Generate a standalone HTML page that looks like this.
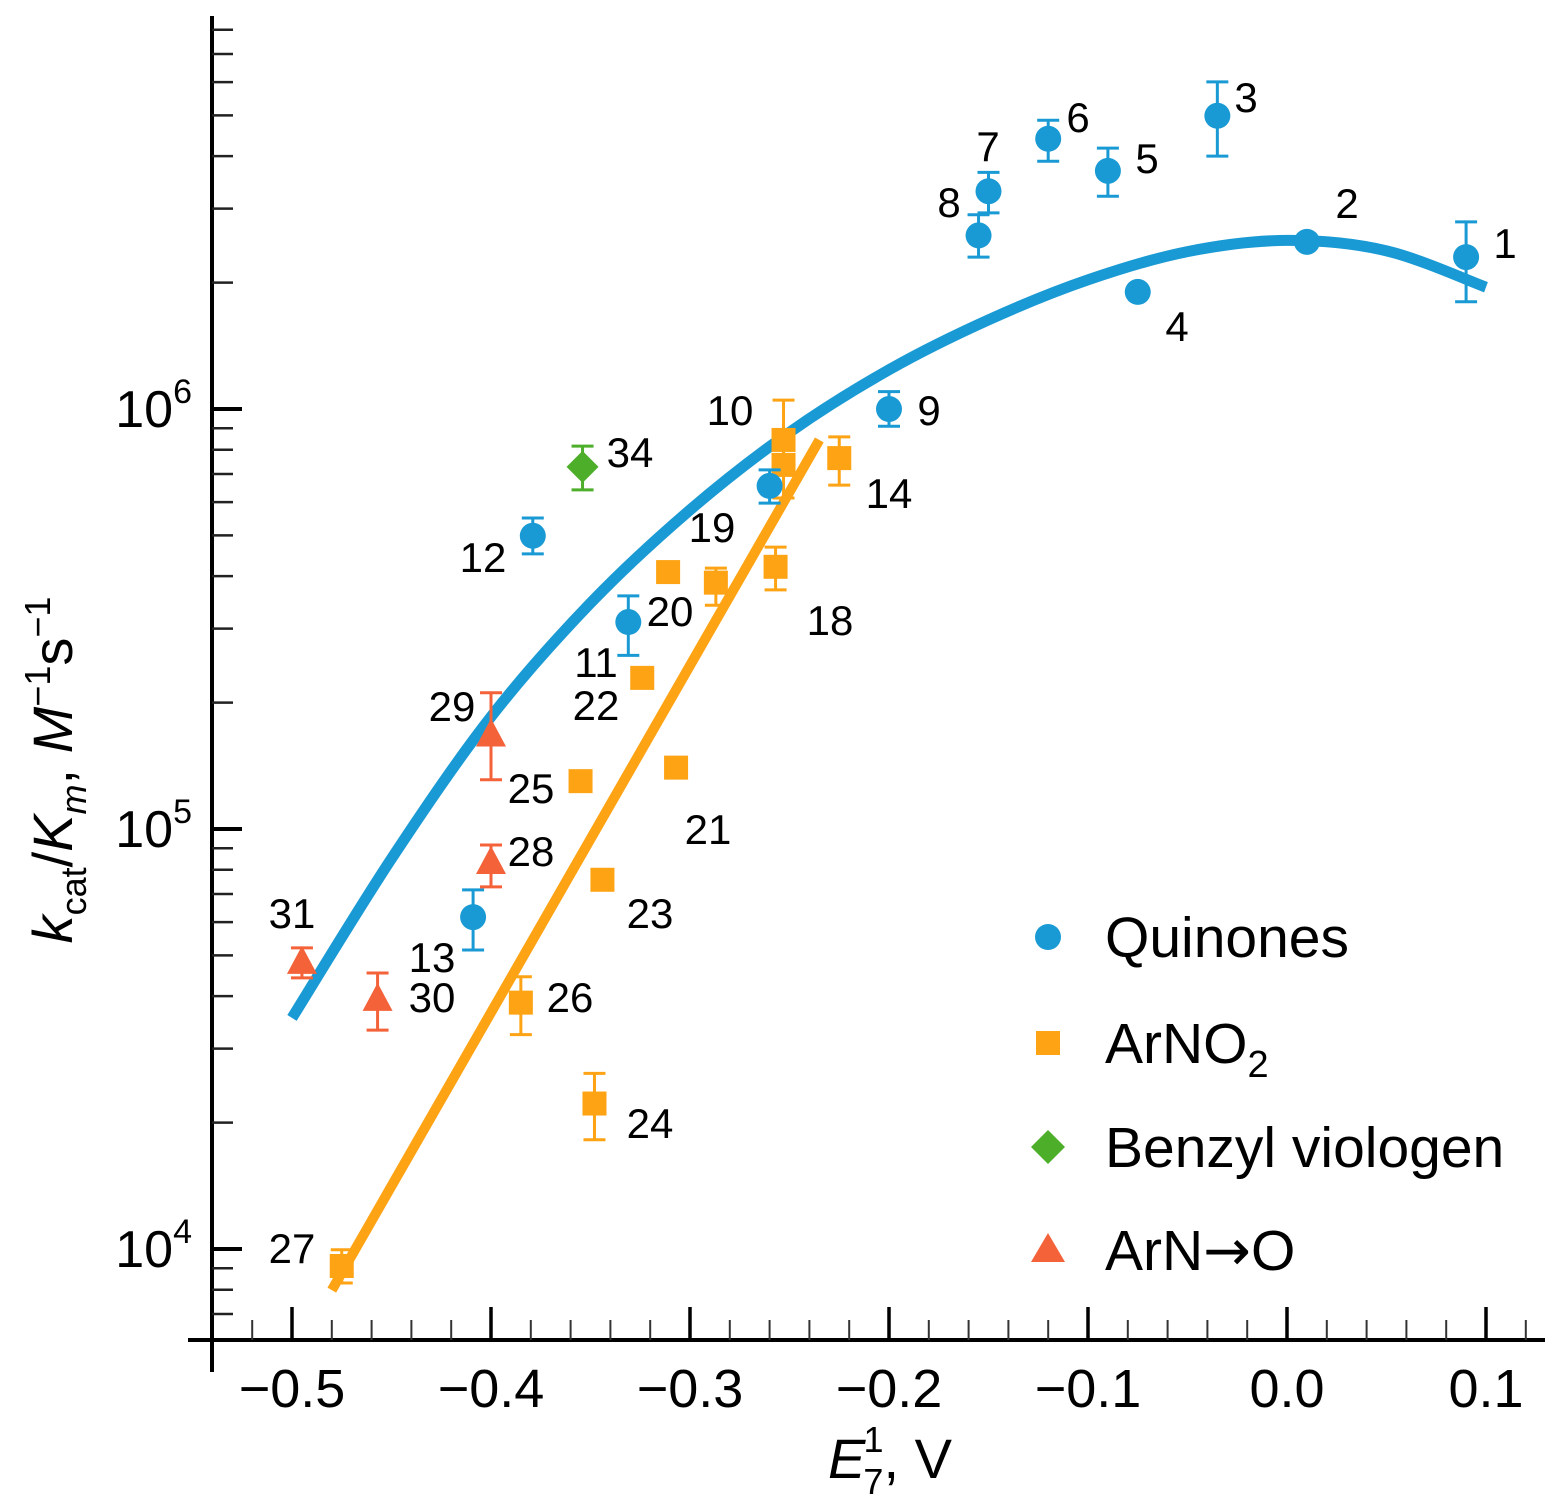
<!DOCTYPE html>
<html><head><meta charset="utf-8"><style>
html,body{margin:0;padding:0;background:#fff;}
svg{display:block;font-family:"Liberation Sans",Arial,sans-serif;}
</style></head><body>
<svg id="chart" width="1567" height="1510" viewBox="0 0 1567 1510">
<g id="axes"></g>
<g id="curves"></g>
<g id="marks"></g>
<g id="labels"></g>
<g id="legend"></g>
<text x="890" y="1478" font-size="56" text-anchor="middle"><tspan font-style="italic">E</tspan><tspan font-size="36" dy="16" dx="-2">7</tspan><tspan font-size="36" dy="-42" dx="-20">1</tspan><tspan dy="26">, V</tspan></text>
<text transform="translate(72,770) rotate(-90)" font-size="56" text-anchor="middle"><tspan font-style="italic">k</tspan><tspan font-size="36" dy="14">cat</tspan><tspan dy="-14">/</tspan><tspan font-style="italic">K</tspan><tspan font-size="36" font-style="italic" dy="14">m</tspan><tspan dy="-14">, </tspan><tspan font-style="italic">M</tspan><tspan font-size="36" dy="-22">−1</tspan><tspan dy="22">s</tspan><tspan font-size="36" dy="-22">−1</tspan></text>
</svg>
<script>
// ---- data ----
const quinoneX = [0.09, 0.01, -0.035, -0.075, -0.09, -0.12, -0.15, -0.155, -0.2, -0.26, -0.331, -0.379, -0.409];
const quinoneY = [2.30e6, 2.50e6, 4.99e6, 1.90e6, 3.69e6, 4.40e6, 3.30e6, 2.59e6, 1.0e6, 6.56e5, 3.11e5, 4.99e5, 6.17e4];
const quinoneHi = [2.79e6, null, 6.01e6, null, 4.18e6, 4.87e6, 3.66e6, 2.90e6, 1.10e6, 7.16e5, 3.59e5, 5.50e5, 7.16e4];
const quinoneLo = [1.80e6, null, 4.00e6, null, 3.21e6, 3.89e6, 2.93e6, 2.30e6, 0.91e6, 5.97e5, 2.59e5, 4.52e5, 5.15e4];

const nitroX = [-0.253, -0.253, -0.225, -0.257, -0.287, -0.311, -0.324, -0.307, -0.355, -0.344, -0.385, -0.348, -0.475];
const nitroY = [8.44e5, 7.36e5, 7.64e5, 4.21e5, 3.86e5, 4.09e5, 2.29e5, 1.40e5, 1.30e5, 7.57e4, 3.86e4, 2.22e4, 9.11e3];
const nitroHi = [1.05e6, 8.53e5, 8.58e5, 4.69e5, 4.18e5, null, null, null, null, null, 4.45e4, 2.62e4, 9.96e3];
const nitroLo = [7.16e5, 6.14e5, 6.59e5, 3.71e5, 3.41e5, null, null, null, null, null, 3.24e4, 1.82e4, 8.30e3];

const oxideX = [-0.4, -0.4, -0.457, -0.495];
const oxideY = [1.67e5, 8.30e4, 3.92e4, 4.80e4];
const oxideHi = [2.11e5, 9.16e4, 4.54e4, 5.21e4];
const oxideLo = [1.31e5, 7.28e4, 3.32e4, 4.42e4];

const viologenX = [-0.354];
const viologenY = [7.28e5];
const viologenHi = [8.16e5];
const viologenLo = [6.42e5];

const quinoneFitX = [-0.5, -0.45, -0.4, -0.35, -0.3, -0.25, -0.2, -0.15, -0.1, -0.05, 0.0, 0.05, 0.1];
const quinoneFitY = [3.55e4, 8.5e4, 1.85e5, 3.45e5, 5.75e5, 8.8e5, 1.24e6, 1.63e6, 2.03e6, 2.37e6, 2.52e6, 2.38e6, 1.95e6];
const nitroFitX = [-0.48, -0.235];
const nitroFitY = [7.98e3, 8.44e5];

const xTicks = [-0.5, -0.4, -0.3, -0.2, -0.1, 0.0, 0.1];
const xTickLabels = ["−0.5", "−0.4", "−0.3", "−0.2", "−0.1", "0.0", "0.1"];
const yTicks = [1e4, 1e5, 1e6];
const yTickExps = ["4", "5", "6"];

const ptLabels = [["1",1505,243],["2",1347,203],["3",1246,97],["4",1177,326],["5",1147,158],["6",1078,117],["7",988,146],["8",949,202],["9",929,410],["10",730,410],["11",596,662],["12",483,557],["13",432,957],["14",889,493],["18",830,620],["19",712,527],["20",670,611],["21",708,829],["22",596,705],["23",650,913],["24",650,1123],["25",531,788],["26",570,997],["27",292,1248],["28",531,851],["29",452,706],["30",432,997],["31",292,913],["34",630,452]];

// ---- scales ----
const X0 = 292, XPX = 1990;
const sx = v => X0 + (v + 0.5) * XPX;
const sy = v => 409 - (Math.log10(v) - 6) * 420;
const NS = "http://www.w3.org/2000/svg";
function mk(tag, attrs, parent) {
  const e = document.createElementNS(NS, tag);
  for (const k in attrs) e.setAttribute(k, attrs[k]);
  parent.appendChild(e);
  return e;
}
const BLUE = "#1a9ad4", ORANGE = "#fda314", GREEN = "#4dae2a", RED = "#f4623a";

// ---- axes ----
const axes = document.getElementById('axes');
let l = mk('line', {x1:212, y1:16, x2:212, y2:1372, stroke:'#000', 'stroke-width':4}, axes);


l = mk('line', {x1:188, y1:1340, x2:1545, y2:1340, stroke:'#000', 'stroke-width':4}, axes);


for (let i = -26; i <= 6; i++) {
  const v = i / 50;
  const x = sx(v);
  if (x < 220 || x > 1540) continue;
  const major = Math.abs(i % 5) === 0;
  const t = mk('line', {x1:x, y1:1340, x2:x, y2: major ? 1307 : 1320, stroke: major ? '#000' : '#333', 'stroke-width': major ? 3.5 : 2}, axes);
  
  
}
xTicks.forEach((v, i) => {
  const t = mk('text', {x: sx(v), y: 1407, 'font-size': 54, 'text-anchor': 'middle'}, axes);
  t.textContent = xTickLabels[i];
  
  
});
for (let d = 3; d <= 6; d++) {
  for (let m = 1; m <= 9; m++) {
    const v = m * Math.pow(10, d);
    const y = sy(v);
    if (y < 22 || y > 1330) continue;
    const major = m === 1;
    const t = mk('line', {x1:212, y1:y, x2: major ? 242 : 233, y2:y, stroke: major ? '#000' : '#222', 'stroke-width': major ? 4 : 2.5}, axes);
    
    
  }
}
yTicks.forEach((v, i) => {
  const t = mk('text', {x: 192, y: sy(v) + 18, 'font-size': 52, 'text-anchor': 'end'}, axes);
  t.innerHTML = '10<tspan font-size="34" dy="-24">' + yTickExps[i] + '</tspan>';
  
  
});

// ---- fit lines ----
const curves = document.getElementById('curves');
function spline(xs, ys) {
  const p = xs.map((x, i) => [sx(x), sy(ys[i])]);
  let d = 'M' + p[0][0] + ',' + p[0][1];
  for (let i = 0; i < p.length - 1; i++) {
    const p0 = p[Math.max(0, i - 1)], p1 = p[i], p2 = p[i + 1], p3 = p[Math.min(p.length - 1, i + 2)];
    const c1 = [p1[0] + (p2[0] - p0[0]) / 6, p1[1] + (p2[1] - p0[1]) / 6];
    const c2 = [p2[0] - (p3[0] - p1[0]) / 6, p2[1] - (p3[1] - p1[1]) / 6];
    d += ' C' + c1 + ' ' + c2 + ' ' + p2;
  }
  return d;
}
let c = mk('path', {d: spline(quinoneFitX, quinoneFitY), fill:'none', stroke:BLUE, 'stroke-width':11}, curves);


c = mk('line', {x1: sx(nitroFitX[0]), y1: sy(nitroFitY[0]), x2: sx(nitroFitX[1]), y2: sy(nitroFitY[1]), stroke:ORANGE, 'stroke-width':10}, curves);



// ---- marks ----
const marks = document.getElementById('marks');
function errbar(x, hi, lo, color) {
  if (hi == null) return;
  const px = sx(x), yh = sy(hi), yl = sy(lo);
  const g = mk('g', {stroke: color, 'stroke-width': 3}, marks);
  
  
  mk('line', {x1:px, y1:yh, x2:px, y2:yl}, g);
  mk('line', {x1:px-11, y1:yh, x2:px+11, y2:yh}, g);
  mk('line', {x1:px-11, y1:yl, x2:px+11, y2:yl}, g);
}
function marker(shape, x, y, color, name) {
  const px = sx(x), py = sy(y);
  let e;
  if (shape === 'circle') e = mk('circle', {cx:px, cy:py, r:13, fill:color}, marks);
  else if (shape === 'square') e = mk('rect', {x:px-12, y:py-12, width:24, height:24, fill:color}, marks);
  else if (shape === 'diamond') e = mk('polygon', {points: `${px},${py-16} ${px+16},${py} ${px},${py+16} ${px-16},${py}`, fill:color}, marks);
  else e = mk('polygon', {points: `${px},${py-17} ${px+15},${py+11} ${px-15},${py+11}`, fill:color}, marks);
  
  
}
nitroX.forEach((x, i) => { errbar(x, nitroHi[i], nitroLo[i], ORANGE); marker('square', x, nitroY[i], ORANGE, 'nitro-point'); });
quinoneX.forEach((x, i) => { errbar(x, quinoneHi[i], quinoneLo[i], BLUE); marker('circle', x, quinoneY[i], BLUE, 'quinone-point'); });
oxideX.forEach((x, i) => { errbar(x, oxideHi[i], oxideLo[i], RED); marker('tri', x, oxideY[i], RED, 'n-oxide-point'); });
viologenX.forEach((x, i) => { errbar(x, viologenHi[i], viologenLo[i], GREEN); marker('diamond', x, viologenY[i], GREEN, 'viologen-point'); });

// ---- labels ----
const labels = document.getElementById('labels');
ptLabels.forEach(d => {
  const t = mk('text', {x: d[1], y: d[2] + 15, 'font-size': 42, 'text-anchor': 'middle'}, labels);
  t.textContent = d[0];
  
  
});

// ---- legend ----
const legend = document.getElementById('legend');
const legNames = ['Quinones', 'ArNO<tspan font-size="38" dy="14">2</tspan>', 'Benzyl viologen', 'ArN<tspan font-family="DejaVu Sans">→</tspan>O'];
const legShapes = ['circle', 'square', 'diamond', 'tri'];
const legColors = [BLUE, ORANGE, GREEN, RED];
const legY = [937, 1043, 1147, 1250];
legNames.forEach((n, i) => {
  const g = mk('g', {}, legend);
  
  
  const px = 1048, py = legY[i];
  const col = legColors[i];
  if (legShapes[i] === 'circle') mk('circle', {cx:px, cy:py, r:13, fill:col}, g);
  else if (legShapes[i] === 'square') mk('rect', {x:px-12, y:py-12, width:24, height:24, fill:col}, g);
  else if (legShapes[i] === 'diamond') mk('polygon', {points:`${px},${py-17} ${px+17},${py} ${px},${py+17} ${px-17},${py}`, fill:col}, g);
  else mk('polygon', {points:`${px},${py-17} ${px+17},${py+12} ${px-17},${py+12}`, fill:col}, g);
  const t = mk('text', {x:1105, y:py+20, 'font-size':57}, g);
  t.innerHTML = n;
});
</script>
</body></html>
